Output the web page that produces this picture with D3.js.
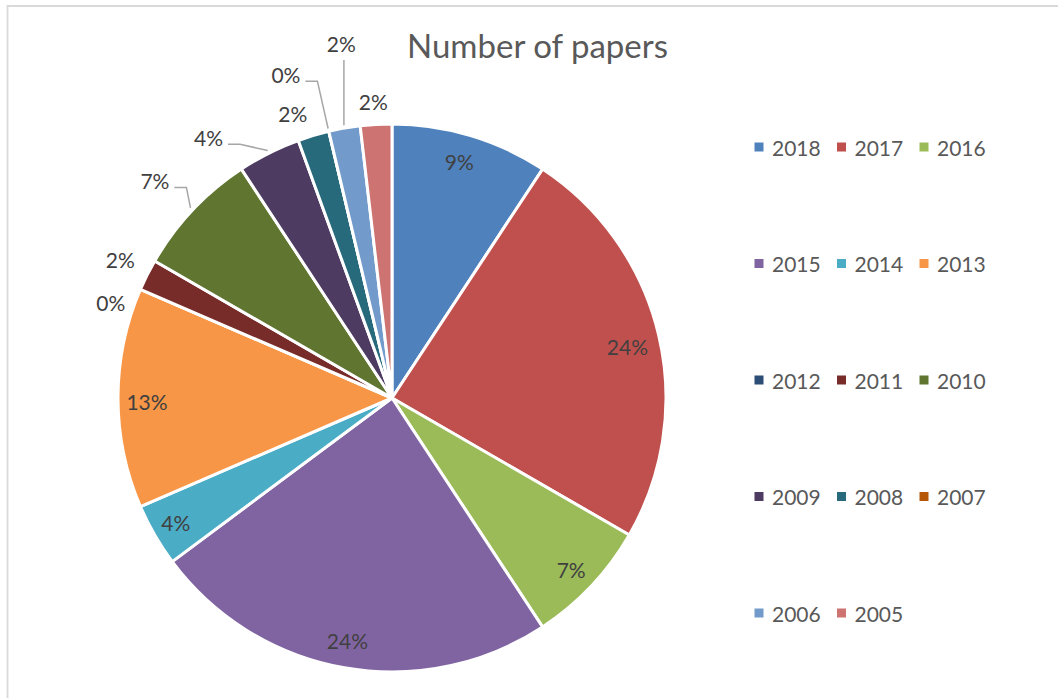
<!DOCTYPE html>
<html>
<head>
<meta charset="utf-8">
<script src="https://cdn.jsdelivr.net/npm/d3@7"></script>
<style>
  html, body { margin: 0; padding: 0; background: #fff; }
  svg { display: block; font-family: Lato, "Open Sans", sans-serif; }
</style>
</head>
<body>
<svg id="chart" width="1058" height="698"></svg>
<script>
// Papers published per year
const years  = ["2018","2017","2016","2015","2014","2013","2012","2011","2010","2009","2008","2007","2006","2005"];
const papers = [5, 13, 4, 13, 2, 7, 0, 1, 4, 2, 1, 0, 1, 1];
const colors = ["#4F81BD","#C0504D","#9BBB59","#8064A2","#4BACC6","#F79646","#2C4D75",
                "#772C2A","#5F7530","#4D3B62","#276A7C","#B65708","#729ACA","#CD7371"];
const title = "Number of papers";

// Label placement: inside labels sit near the rim, outside labels just past it;
// nudges keep neighbouring labels clear, leader says how the callout line runs.
const labelPlacement = [
  { inside: true,  dx: -3, dy: -2 },
  { inside: true,  dx: -3, dy: 5 },
  { inside: true,  dx: 1,  dy: 3 },
  { inside: true,  dx: -2, dy: 1 },
  { inside: true,  dx: -4, dy: 2 },
  { inside: true,  dx: 0,  dy: 3 },
  { inside: false, dx: -2, dy: 25 },
  { inside: false, dx: 0,  dy: -2 },
  { inside: false, dx: -16, dy: -9, leader: "side" },
  { inside: false, dx: -47, dy: 11, leader: "side" },
  { inside: false, dx: -12, dy: 7 },
  { inside: false, dx: -36, dy: -28, leader: "side" },
  { inside: false, dx: 2,  dy: -55, leader: "below" },
  { inside: false, dx: -1, dy: 7 }
];

const svg = d3.select("#chart");
const cx = 392, cy = 398, R = 274;

// frame
svg.append("path")
  .attr("d", "M7.5,700 V6 H1060")
  .attr("fill", "none")
  .attr("stroke", "#d9d9d9")
  .attr("stroke-width", 1.8);

// title
svg.append("text")
  .attr("x", 537.5).attr("y", 58)
  .attr("text-anchor", "middle")
  .attr("fill", "#595959")
  .attr("font-size", 33)
  .text(title);

const total = d3.sum(papers);
const data = years.map((y, i) => ({ year: y, value: papers[i], color: colors[i], place: labelPlacement[i] }));

const pie = d3.pie().value(d => d.value).sort(null);
const arcs = pie(data);
const arc = d3.arc().innerRadius(0).outerRadius(R);

const g = svg.append("g").attr("transform", `translate(${cx},${cy})`);

g.selectAll("path.slice")
  .data(arcs)
  .join("path")
  .attr("class", "slice")
  .attr("d", arc)
  .attr("fill", d => d.data.color)
  .attr("stroke", "#fff")
  .attr("stroke-width", 3)
  .attr("stroke-linejoin", "round");

const polar = (a, r) => [r * Math.sin(a), -r * Math.cos(a)];
const pct = d3.format(".0%");

const labels = g.append("g");
const leaders = g.insert("g", () => labels.node());

arcs.forEach(d => {
  const p = d.data.place;
  const mid = (d.startAngle + d.endAngle) / 2;
  const base = polar(mid, p.inside ? 245 : R + 30);
  const x = base[0] + p.dx, y = base[1] + p.dy;
  const t = labels.append("text")
    .attr("x", x).attr("y", y)
    .attr("text-anchor", "middle")
    .attr("dominant-baseline", "central")
    .attr("fill", "#404040")
    .attr("font-size", 21)
    .text(pct(d.data.value / total));

  if (p.leader) {
    const bb = t.node().getBBox();
    const start = polar(mid, R + 3);
    let pts;
    if (p.leader === "side") {
      const end = [bb.x + bb.width + 5, y + 7];
      pts = [start, [end[0] + 12, end[1]], end];
    } else {
      pts = [start, [start[0], bb.y + bb.height + 4]];
    }
    leaders.append("path")
      .attr("d", d3.line()(pts))
      .attr("fill", "none")
      .attr("stroke", "#a6a6a6")
      .attr("stroke-width", 1.5);
  }
});

// legend: three columns, five rows
const col = d3.scalePoint().domain([0, 1, 2]).range([754.5, 919.5]);
const row = d3.scalePoint().domain([0, 1, 2, 3, 4]).range([147, 613]);
const legend = svg.append("g");
const item = legend.selectAll("g")
  .data(data)
  .join("g")
  .attr("transform", (d, i) => `translate(${col(i % 3)},${row(Math.floor(i / 3))})`);
item.append("rect")
  .attr("x", 0).attr("y", -4.5)
  .attr("width", 9).attr("height", 9)
  .attr("fill", d => d.color);
item.append("text")
  .attr("x", 17.5).attr("y", 0)
  .attr("dominant-baseline", "central")
  .attr("fill", "#595959")
  .attr("font-size", 21)
  .text(d => d.year);
</script>
</body>
</html>
